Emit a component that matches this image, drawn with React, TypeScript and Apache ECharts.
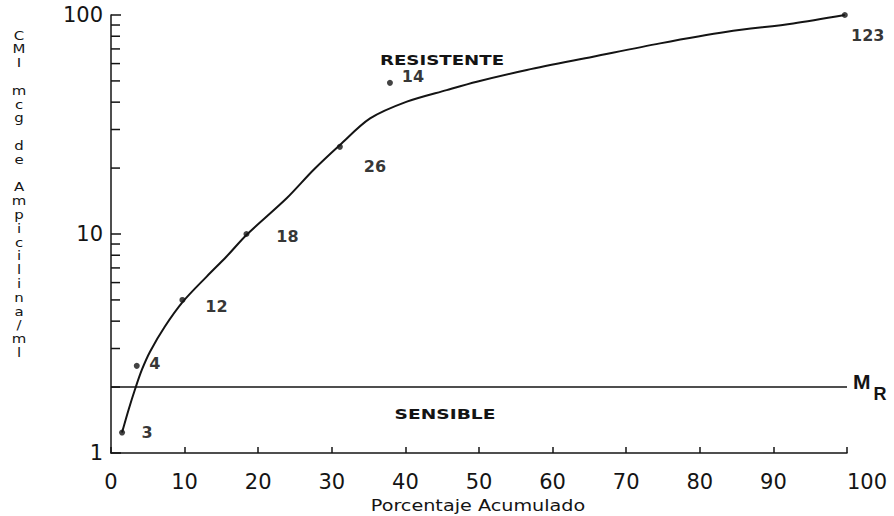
import React, { useEffect, useRef } from "react";
import * as echarts from "echarts";

// Observed points (cumulative %, MIC) and their counts
const pointX = [1.5, 3.5, 9.7, 18.4, 31.1, 37.9, 99.7];
const pointY = [1.24, 2.5, 5, 10, 25, 49, 100];
const pointLabels = ["3", "4", "12", "18", "26", "14", "123"];

// Hand-drawn fitted curve
const curveX = [1.5, 2.4, 3.3, 4.2, 5.3, 7.3, 9.8, 13, 15.7, 18.4, 23.9, 27.5, 31.1, 35.2, 40.2, 45.6, 49.7, 56.5, 65.5, 74.6, 83.7, 92.7, 99.7];
const curveY = [1.24, 1.58, 1.97, 2.4, 2.9, 3.77, 4.92, 6.39, 7.89, 9.9, 14.6, 19.6, 25.5, 33.7, 40.2, 45.4, 49.6, 56.1, 64.5, 74.2, 83.8, 91.5, 100];

// Breakpoint M_R
const breakpointMR = 2;

// Minor tick values of the log axis
const yMinorTicks = [2, 3, 4, 5, 6, 7, 8, 9, 20, 30, 40, 50, 60, 70, 80, 90];

// Texts
const yTitle = "CMI mcg de Ampicilina/ml";
const xTitle = "Porcentaje Acumulado";
const zoneHigh = "RESISTENTE";
const zoneLow = "SENSIBLE";

// label offsets (layout only)
const labelOffsets = [[25, 0], [18, -2], [34, 7], [41, 2], [35, 20], [23, -6], [23, 20]];

const INK = "#141414";
const FONT = "DejaVu Sans";

export default function App() {
  const ref = useRef<HTMLDivElement>(null);
  useEffect(() => {
    if (!ref.current) return;
    const chart = echarts.init(ref.current, null, { renderer: "svg" });
    const option: any = {
      animation: false,
      backgroundColor: "#ffffff",
      grid: { left: 111, right: 47, top: 15, bottom: 63, containLabel: false, outerBoundsMode: "none" },
      xAxis: {
        type: "value",
        min: 0,
        max: 100,
        interval: 10,
        splitLine: { show: false },
        axisLine: { show: true, lineStyle: { color: INK, width: 1.5 } },
        axisTick: { show: true, inside: true, length: 6, lineStyle: { color: INK, width: 1.5 } },
        axisLabel: { color: INK, fontSize: 21, fontFamily: FONT, margin: 18, alignMaxLabel: "left" },
      },
      yAxis: {
        type: "log",
        logBase: 10,
        min: 1,
        max: 100,
        splitLine: { show: false },
        axisLine: { show: true, lineStyle: { color: INK, width: 1.5 } },
        axisTick: { show: true, inside: true, length: 10, lineStyle: { color: INK, width: 1.5 } },
        axisLabel: { color: INK, fontSize: 21, fontFamily: FONT, margin: 8 },
      },
      series: [
        {
          type: "custom",
          silent: true,
          clip: false,
          z: 5,
          data: yMinorTicks.map((v) => [0, v]),
          renderItem: (_p: any, api: any) => {
            const p = api.coord([0, api.value(1)]);
            return {
              type: "line",
              shape: { x1: p[0], y1: p[1], x2: p[0] + 9, y2: p[1] },
              style: { stroke: INK, lineWidth: 1.5 },
            };
          },
        },
        {
          type: "line",
          data: curveX.map((x, i) => [x, curveY[i]]),
          smooth: 0.3,
          showSymbol: false,
          symbol: "none",
          silent: true,
          clip: false,
          lineStyle: { color: INK, width: 2 },
          markLine: {
            silent: true,
            symbol: ["none", "none"],
            data: [{ yAxis: breakpointMR }],
            lineStyle: { color: INK, width: 1.5, type: "solid" },
            label: {
              show: true,
              position: "end",
              distance: 6,
              formatter: "{m|M}{r|R}",
              rich: {
                m: { fontSize: 21, fontWeight: "bold", fontFamily: "Liberation Sans", color: INK, padding: [0, 0, 12, 0] },
                r: { fontSize: 18, fontWeight: "bold", fontFamily: "Liberation Sans", color: INK, padding: [14, 0, 0, 3] },
              },
            },
          },
        },
        {
          type: "scatter",
          symbol: "circle",
          symbolSize: 6,
          clip: false,
          z: 6,
          itemStyle: { color: INK },
          data: pointX.map((x, i) => ({
            value: [x, pointY[i]],
            label: { offset: labelOffsets[i] },
          })),
          label: {
            show: true,
            position: "inside",
            align: "center",
            verticalAlign: "middle",
            formatter: (p: any) => pointLabels[p.dataIndex],
            fontSize: 16,
            fontWeight: "bold",
            fontFamily: FONT,
            color: "#000",
          },
        },
      ],
      graphic: [
        {
          type: "text",
          x: 442,
          y: 60,
          scaleX: 1.3,
          style: { text: zoneHigh, fontSize: 14, fontWeight: "bold", fontFamily: FONT, fill: INK, textAlign: "center", textVerticalAlign: "middle" },
        },
        {
          type: "text",
          x: 445,
          y: 414,
          scaleX: 1.33,
          style: { text: zoneLow, fontSize: 14, fontWeight: "bold", fontFamily: FONT, fill: INK, textAlign: "center", textVerticalAlign: "middle" },
        },
        {
          type: "text",
          x: 478,
          y: 506,
          scaleX: 1.28,
          style: { text: xTitle, fontSize: 15, fontFamily: FONT, fill: INK, textAlign: "center", textVerticalAlign: "middle" },
        },
        {
          type: "text",
          x: 19,
          y: 28,
          scaleX: 1.15,
          style: {
            text: yTitle.split("").join("\n"),
            fontSize: 13,
            lineHeight: 13.8,
            fontFamily: FONT,
            fill: INK,
            textAlign: "center",
            textVerticalAlign: "top",
          },
        },
      ],
    };
    chart.setOption(option);
    return () => chart.dispose();
  }, []);
  return (
    <div
      ref={ref}
      style={{ position: "fixed", left: 0, top: 0, width: 894, height: 516, background: "#fff" }}
    />
  );
}
